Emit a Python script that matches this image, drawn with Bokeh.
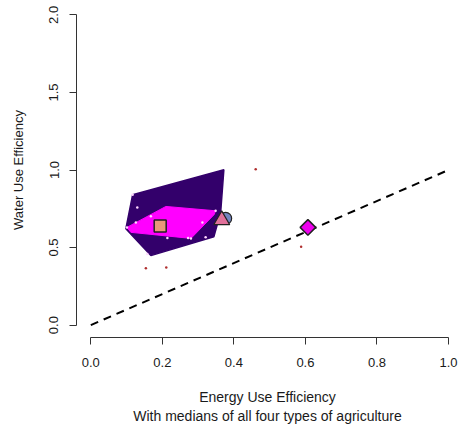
import math
from bokeh.plotting import figure
from bokeh.models import FixedTicker, PrintfTickFormatter, Range1d
from bokeh.embed import file_html
from bokeh.resources import INLINE

# Convex hull of the larger group (dark purple)
outer_x = [0.117, 0.372, 0.363, 0.344, 0.168, 0.098]
outer_y = [0.841, 1.002, 0.725, 0.570, 0.448, 0.622]
# Convex hull of the second group (magenta)
inner_x = [0.210, 0.349, 0.345, 0.280, 0.112, 0.101]
inner_y = [0.765, 0.737, 0.713, 0.559, 0.598, 0.630]
# Individual observations inside hulls
pts_in_x = [0.130, 0.168, 0.312, 0.272, 0.321, 0.126, 0.214, 0.158, 0.117, 0.101, 0.349, 0.280]
pts_in_y = [0.759, 0.701, 0.662, 0.562, 0.566, 0.662, 0.562, 0.459, 0.841, 0.630, 0.737, 0.559]
# Individual observations outside hulls
pts_out_x = [0.154, 0.211, 0.461, 0.588]
pts_out_y = [0.366, 0.372, 1.005, 0.505]
# Medians of the four agriculture types
med_sq = (0.194, 0.639)
med_circ = (0.377, 0.688)
med_tri = (0.366, 0.677)
med_dia = (0.607, 0.630)
# 1:1 reference line
ref_x = [0.0, 1.0]
ref_y = [0.0, 1.0]

x_ticks = [0.0, 0.2, 0.4, 0.6, 0.8, 1.0]
y_ticks = [0.0, 0.5, 1.0, 1.5, 2.0]

FONT = "Liberation Sans"
TXT = "#1a1a1a"

p = figure(width=458, height=427, output_backend="svg", toolbar_location=None,
           x_range=Range1d(-0.04, 1.028), y_range=Range1d(-0.08, 2.08),
           min_border_left=76, min_border_right=0, min_border_top=2, min_border_bottom=90)
p.outline_line_color = None
p.xgrid.visible = False
p.ygrid.visible = False
p.background_fill_color = "white"
p.border_fill_color = "white"

p.patch(outer_x, outer_y, fill_color="#33006b", line_color="#33006b", line_width=1.5)
p.patch(inner_x, inner_y, fill_color="#ff00ff", line_color="#ff00ff", line_width=1)
p.scatter(pts_in_x, pts_in_y, size=2.5, color="#ffd6ff", line_color=None)
p.scatter(pts_out_x, pts_out_y, size=2.5, color="#b03030", line_color=None)

p.line(ref_x, ref_y, line_color="black", line_width=2, line_dash="8 6")

p.scatter([med_circ[0]], [med_circ[1]], marker="circle", size=12, fill_color="#7385c0", line_color="#222222", line_width=1.2)
p.scatter([med_tri[0]], [med_tri[1]], marker="triangle", size=16, fill_color="#e0709a", line_color="#222222", line_width=1.2)
p.scatter([med_sq[0]], [med_sq[1]], marker="square", size=12, fill_color="#e9967a", line_color="#222222", line_width=1.5)
p.scatter([med_dia[0]], [med_dia[1]], marker="square", angle=math.pi / 4, size=11, fill_color="#ee00ee", line_color="#222222", line_width=1.5)

for ax, ticks in ((p.xaxis[0], x_ticks), (p.yaxis[0], y_ticks)):
    ax.ticker = FixedTicker(ticks=ticks)
    ax.formatter = PrintfTickFormatter(format="%.1f")
    ax.bounds = (ticks[0], ticks[-1])
    ax.minor_tick_line_color = None
    ax.major_tick_out = 7
    ax.major_tick_in = 0
    ax.axis_line_color = "#333333"
    ax.major_tick_line_color = "#333333"
    ax.major_label_text_font = FONT
    ax.major_label_text_font_size = "13px"
    ax.major_label_text_color = TXT
    ax.axis_label_text_font = FONT
    ax.axis_label_text_font_style = "normal"
    ax.axis_label_text_color = TXT

p.xaxis[0].axis_label = "Energy Use Efficiency\nWith medians of all four types of agriculture"
p.xaxis[0].axis_label_text_font_size = "14px"
p.xaxis[0].major_label_standoff = 13
p.xaxis[0].axis_label_standoff = 19
p.yaxis[0].axis_label = "Water Use Efficiency"
p.yaxis[0].axis_label_text_font_size = "13px"
p.yaxis[0].major_label_orientation = "vertical"
p.yaxis[0].major_label_standoff = 11
p.yaxis[0].axis_label_standoff = 21

open("out.html", "w").write(file_html(p, INLINE))
